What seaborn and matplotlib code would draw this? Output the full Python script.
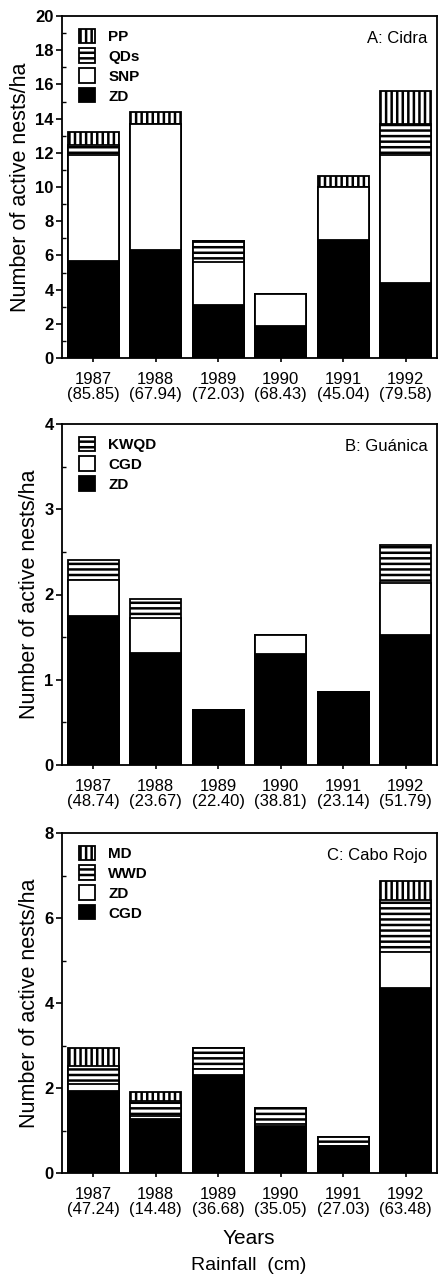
import matplotlib
matplotlib.use("Agg")
import matplotlib.pyplot as plt
import matplotlib.patches as mpatches
from matplotlib.ticker import MultipleLocator
import seaborn as sns
import numpy as np

sns.set_style("ticks")
plt.rcParams['font.family'] = ['Liberation Sans', 'DejaVu Sans']
plt.rcParams['hatch.linewidth'] = 1.8
plt.rcParams['hatch.color'] = 'black'
for key in ['text.color', 'axes.labelcolor', 'xtick.color', 'ytick.color', 'axes.edgecolor']:
    plt.rcParams[key] = 'black'

years = ['1987', '1988', '1989', '1990', '1991', '1992']

# Panel A: Cidra
rain_a = ['85.85', '67.94', '72.03', '68.43', '45.04', '79.58']
a_zd = [5.65, 6.3, 3.1, 1.9, 6.9, 4.4]
a_snp = [6.25, 7.4, 2.5, 1.85, 3.1, 7.5]
a_qds = [0.55, 0.0, 1.25, 0.0, 0.0, 1.8]
a_pp = [0.75, 0.7, 0.0, 0.0, 0.65, 1.9]

# Panel B: Guánica
rain_b = ['48.74', '23.67', '22.40', '38.81', '23.14', '51.79']
b_zd = [1.75, 1.31, 0.65, 1.30, 0.86, 1.52]
b_cgd = [0.42, 0.41, 0.0, 0.23, 0.0, 0.62]
b_kwqd = [0.23, 0.23, 0.0, 0.0, 0.0, 0.44]

# Panel C: Cabo Rojo
rain_c = ['47.24', '14.48', '36.68', '35.05', '27.03', '63.48']
c_cgd = [1.92, 1.28, 2.30, 1.10, 0.63, 4.35]
c_zd = [0.18, 0.05, 0.15, 0.05, 0.0, 0.85]
c_wwd = [0.42, 0.37, 0.48, 0.37, 0.22, 1.22]
c_md = [0.43, 0.20, 0.0, 0.0, 0.0, 0.45]

STYLE = {
    'black': dict(color='black', hatch=None),
    'white': dict(color='white', hatch=None),
    'hline': dict(color='white', hatch='---'),
    'vline': dict(color='white', hatch='|||'),
}

fig = plt.figure(figsize=(4.38, 12.76), dpi=100)
W = 438.0
H = 1276.0


def axes_px(left, top, right, bottom):
    return fig.add_axes([left / W, 1 - bottom / H, (right - left) / W, (bottom - top) / H])


def panel(ax, rain, layers, ymax, major, minor, title):
    # layers: list of (name, values, style) from bottom to top
    xlabels = [f"{y}\n({r})" for y, r in zip(years, rain)]
    cum = np.cumsum([np.array(v) for _, v, _ in layers], axis=0)
    # draw from top layer down so lower layers overlay
    for i in range(len(layers) - 1, -1, -1):
        name, vals, st = layers[i]
        s = STYLE[st]
        sns.barplot(x=xlabels, y=cum[i], color=s['color'], hatch=s['hatch'],
                    edgecolor='black', linewidth=1.3, width=0.81,
                    saturation=1, errorbar=None, ax=ax)
    ax.set_xlim(-0.5, 5.5)
    ax.set_ylim(0, ymax)
    ax.yaxis.set_major_locator(MultipleLocator(major))
    ax.yaxis.set_minor_locator(MultipleLocator(minor))
    ax.tick_params(axis='y', which='major', direction='out', length=4, width=1.2,
                   labelsize=12, pad=2)
    ax.tick_params(axis='y', which='minor', direction='in', length=3, width=1)
    ax.tick_params(axis='x', which='major', direction='out', length=3, width=1.2,
                   labelsize=12, pad=7)
    for lab in ax.get_yticklabels():
        lab.set_fontweight('bold')
    for lab in ax.get_xticklabels():
        lab.set_linespacing(1.0)
    for sp in ax.spines.values():
        sp.set_linewidth(1.3)
        sp.set_visible(True)
    ax.set_ylabel('Number of active nests/ha', fontsize=15.5, labelpad=3)
    ax.set_xlabel('')
    ax.text(0.975, 0.955, title, transform=ax.transAxes, ha='right', va='top',
            fontsize=12)
    handles = []
    for name, vals, st in layers[::-1]:
        s = STYLE[st]
        handles.append(mpatches.Patch(facecolor=s['color'], edgecolor='black',
                                      hatch=s['hatch'], linewidth=1.3, label=name))
    ax.legend(handles=handles, loc='upper left', frameon=False,
              bbox_to_anchor=(0.02, 0.99), handlelength=1.05, handleheight=1.05,
              handletextpad=0.9, labelspacing=0.3, borderaxespad=0.2,
              prop=dict(size=11, weight='bold'))


axA = axes_px(62, 16, 437, 358)
panel(axA, rain_a,
      [('ZD', a_zd, 'black'), ('SNP', a_snp, 'white'),
       ('QDs', a_qds, 'hline'), ('PP', a_pp, 'vline')],
      20, 2, 1, 'A: Cidra')

axB = axes_px(62, 424, 437, 765)
panel(axB, rain_b,
      [('ZD', b_zd, 'black'), ('CGD', b_cgd, 'white'), ('KWQD', b_kwqd, 'hline')],
      4, 1, 0.5, 'B: Guánica')

axC = axes_px(62, 833, 437, 1173)
panel(axC, rain_c,
      [('CGD', c_cgd, 'black'), ('ZD', c_zd, 'white'),
       ('WWD', c_wwd, 'hline'), ('MD', c_md, 'vline')],
      8, 2, 1, 'C: Cabo Rojo')

fig.text(249 / W, 1 - 1239 / H, 'Years', ha='center', va='center', fontsize=15)
fig.text(249 / W, 1 - 1265 / H, 'Rainfall  (cm)', ha='center', va='center', fontsize=14)

fig.savefig('out.png', dpi=100)
